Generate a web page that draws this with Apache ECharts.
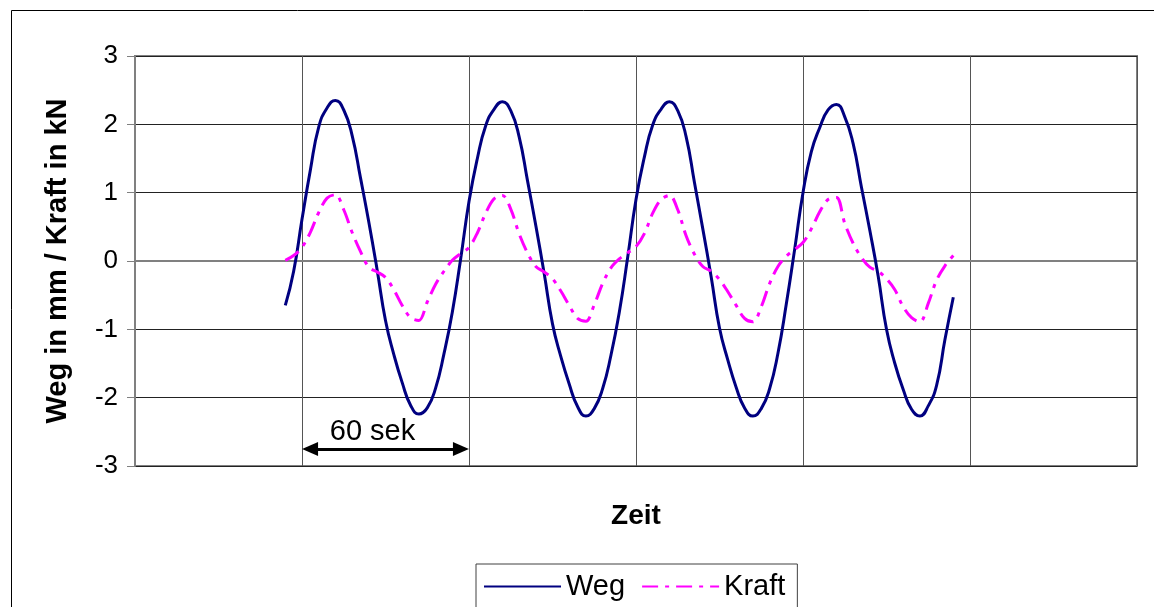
<!DOCTYPE html>
<html>
<head>
<meta charset="utf-8">
<script src="https://cdn.jsdelivr.net/npm/echarts@6/dist/echarts.min.js"></script>
<style>
html,body{margin:0;padding:0;background:#fff;}
#chart{width:1154px;height:607px;}
</style>
</head>
<body>
<div id="chart"></div>
<script>
// Sample clock (seconds); one grid division = 60 s
const sampleStartSec = 54;
const sampleStepSec = 3;

// Weg in mm
const weg = [
  -0.65, -0.15, 0.61, 1.33, 1.96, 2.24, 2.35, 2.21, 1.84, 1.22, 0.57, -0.13, -0.87, -1.37, -1.78, -2.11, -2.24, -2.15, -1.86, -1.36,
  -0.75, 0.03, 0.87, 1.50, 1.98, 2.22, 2.33, 2.20, 1.82, 1.18, 0.52, -0.18, -0.92, -1.40, -1.80, -2.13, -2.27, -2.16, -1.87, -1.38,
  -0.75, 0.05, 0.90, 1.52, 1.99, 2.22, 2.33, 2.20, 1.82, 1.15, 0.47, -0.23, -0.98, -1.45, -1.85, -2.15, -2.27, -2.16, -1.87, -1.35,
  -0.63, 0.17, 1.00, 1.60, 1.95, 2.21, 2.29, 2.11, 1.72, 1.08, 0.45, -0.22, -1.00, -1.50, -1.88, -2.17, -2.27, -2.12, -1.82, -1.15,
  -0.53
];

// Kraft in kN
const kraft = [
  0.01, 0.08, 0.20, 0.42, 0.71, 0.92, 0.97, 0.75, 0.42, 0.14, -0.09, -0.16, -0.24, -0.42, -0.65, -0.83, -0.87, -0.60, -0.34, -0.15,
  0.01, 0.11, 0.20, 0.41, 0.70, 0.91, 0.96, 0.76, 0.40, 0.12, -0.08, -0.16, -0.26, -0.44, -0.65, -0.84, -0.88, -0.64, -0.33, -0.10,
  0.03, 0.12, 0.21, 0.40, 0.70, 0.90, 0.96, 0.75, 0.37, 0.10, -0.08, -0.15, -0.27, -0.45, -0.65, -0.84, -0.89, -0.67, -0.33, -0.08,
  0.07, 0.17, 0.27, 0.47, 0.72, 0.90, 0.93, 0.55, 0.26, 0.05, -0.09, -0.15, -0.26, -0.42, -0.67, -0.83, -0.89, -0.62, -0.28, -0.07,
  0.08
];

const yTicks = [-3, -2, -1, 0, 1, 2, 3];
const seriesNames = ['Weg', 'Kraft'];
const axisTitles = { x: 'Zeit', y: 'Weg in mm / Kraft in kN' };
const periodLabel = '60 sek';
const periodFrom = 60, periodTo = 120, periodLevel = -2.75;

const FONT = '"Liberation Sans", Arial, sans-serif';
const toPairs = arr => arr.map((v, i) => [sampleStartSec + i * sampleStepSec, v]);

const chart = echarts.init(document.getElementById('chart'));
chart.setOption({
  animation: false,
  backgroundColor: '#fff',
  textStyle: { fontFamily: FONT },
  graphic: [{
    type: 'rect', left: 9, top: 8, silent: true,
    shape: { x: 0, y: 0, width: 1160, height: 700 },
    style: { fill: 'none', stroke: '#000', lineWidth: 1 }
  }],
  grid: {
    left: 135, right: 17, top: 56, bottom: 141,
    show: true, borderColor: '#808080', borderWidth: 2, backgroundColor: 'transparent'
  },
  legend: {
    left: 476, top: 564,
    itemWidth: 77, itemHeight: 14, itemGap: 16,
    padding: [8, 12, 24, 7],
    borderColor: '#404040', borderWidth: 1,
    itemStyle: { opacity: 0 },
    textStyle: { fontSize: 29, color: '#000', fontFamily: FONT },
    data: seriesNames
  },
  xAxis: {
    type: 'value', min: 0, max: 360, interval: 60,
    name: axisTitles.x, nameLocation: 'middle', nameGap: 36,
    nameTextStyle: { fontSize: 28, fontWeight: 'bold', color: '#000', fontFamily: FONT },
    axisLine: { show: true, lineStyle: { color: '#808080', width: 2 } },
    axisTick: { show: false },
    axisLabel: { show: false },
    splitLine: { show: true, lineStyle: { color: '#555', width: 1 } }
  },
  yAxis: {
    type: 'value', min: yTicks[0], max: yTicks[yTicks.length - 1], interval: 1,
    name: axisTitles.y, nameLocation: 'middle', nameGap: 63,
    nameTextStyle: { fontSize: 29, fontWeight: 'bold', color: '#000', fontFamily: FONT },
    axisLine: { show: true, lineStyle: { color: '#808080', width: 2 } },
    axisTick: { show: true, inside: false, length: 8, lineStyle: { color: '#808080', width: 1 } },
    axisLabel: { fontSize: 26, color: '#000', margin: 17, fontFamily: FONT },
    splitLine: { show: true, lineStyle: { color: '#222', width: 1 } }
  },
  series: [
    {
      name: seriesNames[0], type: 'line', data: toPairs(weg),
      smooth: 0.5, symbol: 'none',
      lineStyle: { color: '#000080', width: 3 },
      itemStyle: { color: '#000080' },
      markLine: {
        silent: true,
        symbol: ['triangle', 'triangle'],
        symbolSize: [14, 16],
        lineStyle: { color: '#000', width: 3, type: 'solid' },
        label: {
          show: true, position: 'insideMiddleTop', distance: 2,
          formatter: periodLabel, fontSize: 29, color: '#000', fontFamily: FONT,
          padding: [0, 26, 0, 0]
        },
        data: [[
          { coord: [periodFrom + 2.9, periodLevel] },
          { coord: [periodTo - 2.9, periodLevel] }
        ]]
      }
    },
    {
      name: seriesNames[1], type: 'line', data: toPairs(kraft),
      smooth: 0.35, symbol: 'none',
      lineStyle: { color: '#FF00FF', width: 3, type: [16, 7, 4, 7] },
      itemStyle: { color: '#FF00FF' }
    }
  ]
});
</script>
</body>
</html>
